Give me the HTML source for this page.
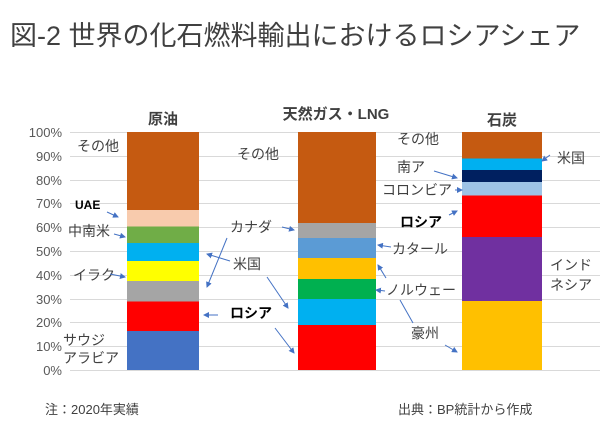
<!DOCTYPE html>
<html><head><meta charset="utf-8"><style>
body{margin:0;background:#fff;}
svg text{font-family:"Liberation Sans","Noto Sans CJK JP",sans-serif;}
</style></head><body>
<svg width="600" height="432" viewBox="0 0 600 432" xmlns="http://www.w3.org/2000/svg">
<defs><marker id="a" markerWidth="6" markerHeight="6" refX="5" refY="3" orient="auto"><path d="M0,0 L6,3 L0,6 z" fill="#4472c4"/></marker></defs>
<rect width="600" height="432" fill="#fff"/>
<text x="10" y="45" font-size="27" fill="#404040">図-2 世界の化石燃料輸出におけるロシアシェア</text>
<g stroke="#d9d9d9" stroke-width="1">
<line x1="70" x2="600" y1="132.5" y2="132.5"/><line x1="70" x2="600" y1="156.5" y2="156.5"/><line x1="70" x2="600" y1="180.5" y2="180.5"/><line x1="70" x2="600" y1="203.5" y2="203.5"/><line x1="70" x2="600" y1="227.5" y2="227.5"/><line x1="70" x2="600" y1="251.5" y2="251.5"/><line x1="70" x2="600" y1="275.5" y2="275.5"/><line x1="70" x2="600" y1="299.5" y2="299.5"/><line x1="70" x2="600" y1="322.5" y2="322.5"/><line x1="70" x2="600" y1="346.5" y2="346.5"/><line x1="70" x2="600" y1="370.5" y2="370.5"/>
</g>
<g font-size="13" fill="#595959" text-anchor="end">
<text x="62" y="137">100%</text><text x="62" y="161">90%</text><text x="62" y="185">80%</text><text x="62" y="208">70%</text><text x="62" y="232">60%</text><text x="62" y="256">50%</text><text x="62" y="280">40%</text><text x="62" y="304">30%</text><text x="62" y="327">20%</text><text x="62" y="351">10%</text><text x="62" y="375">0%</text>
</g>
<rect x="127" y="132" width="72" height="78" fill="#c55a11"/>
<rect x="127" y="210" width="72" height="16.5" fill="#f8cbad"/>
<rect x="127" y="226.5" width="72" height="16.5" fill="#70ad47"/>
<rect x="127" y="243" width="72" height="18" fill="#00b0f0"/>
<rect x="127" y="261" width="72" height="20" fill="#ffff00"/>
<rect x="127" y="281" width="72" height="20.5" fill="#a5a5a5"/>
<rect x="127" y="301.5" width="72" height="29.5" fill="#ff0000"/>
<rect x="127" y="331" width="72" height="39" fill="#4472c4"/>
<rect x="298" y="132" width="78" height="91" fill="#c55a11"/>
<rect x="298" y="223" width="78" height="15" fill="#a5a5a5"/>
<rect x="298" y="238" width="78" height="20" fill="#5b9bd5"/>
<rect x="298" y="258" width="78" height="21" fill="#ffc000"/>
<rect x="298" y="279" width="78" height="20" fill="#00b050"/>
<rect x="298" y="299" width="78" height="26" fill="#00b0f0"/>
<rect x="298" y="325" width="78" height="45" fill="#ff0000"/>
<rect x="462" y="132" width="80" height="26.5" fill="#c55a11"/>
<rect x="462" y="158.5" width="80" height="11.5" fill="#00b0f0"/>
<rect x="462" y="170" width="80" height="12" fill="#002060"/>
<rect x="462" y="182" width="80" height="13.5" fill="#9dc3e6"/>
<rect x="462" y="195.5" width="80" height="41.5" fill="#ff0000"/>
<rect x="462" y="237" width="80" height="64" fill="#7030a0"/>
<rect x="462" y="301" width="80" height="69" fill="#ffc000"/>
<g font-size="15" font-weight="bold" fill="#404040" text-anchor="middle">
<text x="163" y="124">原油</text><text x="336" y="119">天然ガス・LNG</text><text x="502" y="125">石炭</text>
</g>
<g font-size="14" fill="#404040">
<text x="77" y="151">その他</text>
<text x="75" y="209" font-size="12" font-weight="bold" fill="#000">UAE</text>
<text x="68" y="236">中南米</text>
<text x="73" y="280">イラク</text>
<text x="63" y="345">サウジ</text>
<text x="63" y="363">アラビア</text>
<text x="237" y="159">その他</text>
<text x="230" y="232">カナダ</text>
<text x="233" y="269">米国</text>
<text x="230" y="318" font-weight="bold" fill="#000">ロシア</text>
<text x="397" y="144">その他</text>
<text x="397" y="172">南ア</text>
<text x="382" y="195">コロンビア</text>
<text x="400" y="227" font-weight="bold" fill="#000">ロシア</text>
<text x="392" y="254">カタール</text>
<text x="386" y="295">ノルウェー</text>
<text x="411" y="338">豪州</text>
<text x="557" y="163">米国</text>
<text x="550" y="270">インド</text>
<text x="550" y="290">ネシア</text>
</g>
<g stroke="#4472c4" stroke-width="1" fill="none" marker-end="url(#a)">
<line x1="107" y1="212" x2="118" y2="217"/>
<line x1="114" y1="234" x2="125" y2="237"/>
<line x1="110" y1="274" x2="125" y2="277"/>
<line x1="282" y1="227" x2="294" y2="230"/>
<line x1="227" y1="238" x2="207" y2="287"/>
<line x1="230" y1="261" x2="207" y2="254"/>
<line x1="267" y1="277" x2="288" y2="308"/>
<line x1="218" y1="315" x2="204" y2="315"/>
<line x1="275" y1="328" x2="294" y2="353"/>
<line x1="434" y1="171" x2="457" y2="178"/>
<line x1="455" y1="190" x2="462" y2="190"/>
<line x1="449" y1="215" x2="457" y2="211"/>
<line x1="391" y1="247" x2="378" y2="245"/>
<line x1="385" y1="291" x2="376" y2="290"/>
<line x1="386" y1="278" x2="378" y2="265"/>
<line x1="445" y1="345" x2="457" y2="352"/>
<line x1="550" y1="155" x2="542" y2="161"/>
</g>
<line x1="400" y1="300" x2="413" y2="323" stroke="#4472c4" stroke-width="1"/>
<g font-size="13" fill="#404040">
<text x="45" y="414">注：2020年実績</text>
<text x="398" y="414">出典：BP統計から作成</text>
</g>
</svg>
</body></html>
